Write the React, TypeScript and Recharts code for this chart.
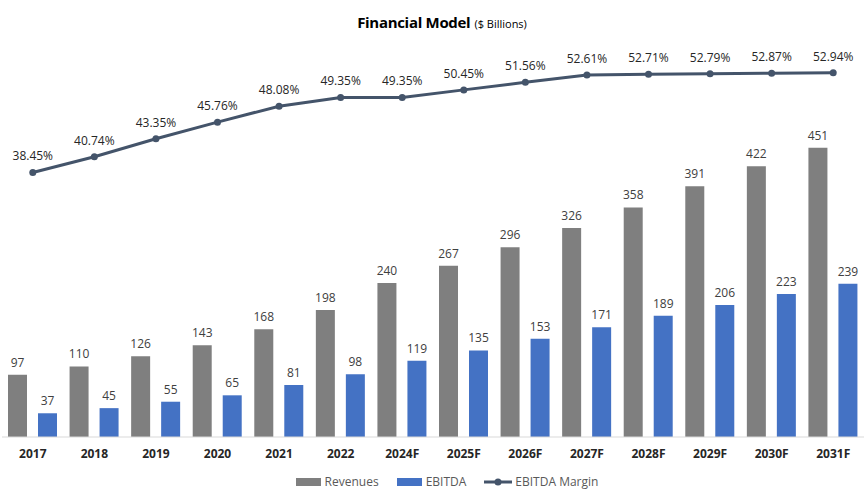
import React from 'react';
import { ComposedChart, Bar, Line, XAxis, YAxis, Legend, LabelList } from 'recharts';

const years = ['2017', '2018', '2019', '2020', '2021', '2022', '2024F', '2025F', '2026F', '2027F', '2028F', '2029F', '2030F', '2031F'];
const revenues = [97, 110, 126, 143, 168, 198, 240, 267, 296, 326, 358, 391, 422, 451];
const ebitda = [37, 45, 55, 65, 81, 98, 119, 135, 153, 171, 189, 206, 223, 239];
const margin = [38.45, 40.74, 43.35, 45.76, 48.08, 49.35, 49.35, 50.45, 51.56, 52.61, 52.71, 52.79, 52.87, 52.94];

const data = years.map((y, i) => ({ year: y, Revenues: revenues[i], EBITDA: ebitda[i], margin: margin[i] }));

const FONT = '"Open Sans", "Noto Sans", sans-serif';
const C_REV = '#7f7f7f';
const C_EB = '#4472c4';
const C_LINE = '#44546a';

const LegendContent = () => (
  <div style={{ display: 'flex', justifyContent: 'center', alignItems: 'center', fontFamily: FONT, fontSize: 12, color: '#595959', gap: 18, paddingLeft: 28, paddingTop: 6 }}>
    <span style={{ display: 'flex', alignItems: 'center' }}>
      <svg width={26} height={10} style={{ marginRight: 3 }}><rect x={0} y={1} width={25} height={8} fill={C_REV} /></svg>
      Revenues
    </span>
    <span style={{ display: 'flex', alignItems: 'center' }}>
      <svg width={26} height={10} style={{ marginRight: 3 }}><rect x={0} y={1} width={25} height={8} fill={C_EB} /></svg>
      EBITDA
    </span>
    <span style={{ display: 'flex', alignItems: 'center' }}>
      <svg width={28} height={10} style={{ marginRight: 3 }}>
        <line x1={0} y1={5} x2={28} y2={5} stroke={C_LINE} strokeWidth={3} />
        <circle cx={14} cy={5} r={3.5} fill={C_LINE} />
      </svg>
      EBITDA Margin
    </span>
  </div>
);

export default function App() {
  return (
    <div style={{ position: 'absolute', left: 0, top: 0, width: 864, height: 493, background: '#fff' }}>
      <div style={{ position: 'absolute', left: 0, top: 11, width: 884, textAlign: 'center', fontFamily: FONT, color: '#000' }}>
        <span style={{ fontSize: 15, fontWeight: 700, letterSpacing: -0.3 }}>Financial Model</span>
        <span style={{ fontSize: 11, marginLeft: 4 }}>($ Billions)</span>
      </div>
      <ComposedChart
        width={864}
        height={493}
        data={data}
        margin={{ top: 40, right: 0, left: 2, bottom: 0 }}
        barGap={11}
        barSize={19}
      >
        <XAxis
          dataKey="year"
          tickLine={false}
          axisLine={{ stroke: '#d9d9d9' }}
          tick={{ fill: '#262626', fontSize: 12, fontWeight: 700, fontFamily: FONT }}
          tickMargin={6}
          height={30}
          interval={0}
        />
        <YAxis yAxisId="bars" hide domain={[0, 619]} allowDataOverflow />
        <YAxis yAxisId="line" hide orientation="right" domain={[0, 57.7]} allowDataOverflow />
        <Legend verticalAlign="bottom" height={26} content={<LegendContent />} />
        <Bar yAxisId="bars" dataKey="Revenues" fill={C_REV} isAnimationActive={false}>
          <LabelList dataKey="Revenues" position="top" offset={8} style={{ fill: '#404040', fontSize: 12, fontFamily: FONT }} />
        </Bar>
        <Bar yAxisId="bars" dataKey="EBITDA" fill={C_EB} isAnimationActive={false}>
          <LabelList dataKey="EBITDA" position="top" offset={8} style={{ fill: '#404040', fontSize: 12, fontFamily: FONT }} />
        </Bar>
        <Line
          yAxisId="line"
          dataKey="margin"
          stroke={C_LINE}
          strokeWidth={3}
          dot={{ r: 3.5, fill: C_LINE, stroke: C_LINE, strokeWidth: 0 }}
          isAnimationActive={false}
        >
          <LabelList
            dataKey="margin"
            position="top"
            offset={12}
            formatter={(v: number) => v.toFixed(2) + '%'}
            style={{ fill: '#262626', fontSize: 12, fontFamily: FONT }}
          />
        </Line>
      </ComposedChart>
    </div>
  );
}
